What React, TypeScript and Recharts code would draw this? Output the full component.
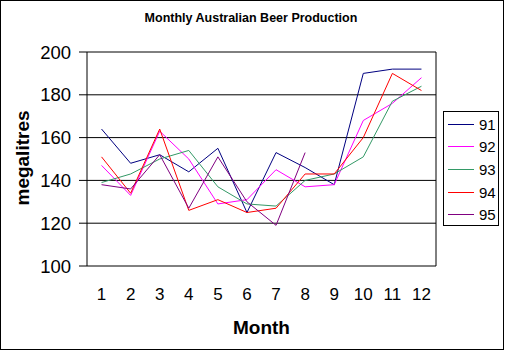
import React from "react";
import { LineChart, Line, XAxis, YAxis, CartesianGrid, Legend, ReferenceLine } from "recharts";

const months = [1, 2, 3, 4, 5, 6, 7, 8, 9, 10, 11, 12];
const y91 = [164, 148, 152, 144, 155, 125, 153, 146, 138, 190, 192, 192];
const y92 = [147, 133, 163, 150, 129, 131, 145, 137, 138, 168, 176, 188];
const y93 = [139, 143, 150, 154, 137, 129, 128, 140, 143, 151, 177, 184];
const y94 = [151, 134, 164, 126, 131, 125, 127, 143, 143, 160, 190, 182];
const y95 = [138, 136, 152, 127, 151, 130, 119, 153];

const yTicks = [100, 120, 140, 160, 180, 200];
const boundaryTicks = [0.5, 1.5, 2.5, 3.5, 4.5, 5.5, 6.5, 7.5, 8.5, 9.5, 10.5, 11.5, 12.5];

const series = [
    { key: "91", color: "#000080" },
    { key: "92", color: "#ff00ff" },
    { key: "93", color: "#339966" },
    { key: "94", color: "#ff0000" },
    { key: "95", color: "#800080" },
];

const data = months.map((m, i) => ({
    month: m,
    "91": y91[i],
    "92": y92[i],
    "93": y93[i],
    "94": y94[i],
    "95": y95[i] ?? null,
}));

const FONT = "'Liberation Sans', Arial, sans-serif";

const YLabel = ({ viewBox }: any) => {
    const cx = viewBox.x + 22;
    const cy = viewBox.y + viewBox.height / 2 - 1;
    return (
        <text x={cx} y={cy} transform={`rotate(-90 ${cx} ${cy})`} textAnchor="middle" dominantBaseline="central"
            fontSize={19} fontWeight="bold" fill="#000" fontFamily={FONT}>
            megalitres
        </text>
    );
};

const XLabel = ({ viewBox }: any) => (
    <text x={viewBox.x + viewBox.width / 2} y={viewBox.y + 68} textAnchor="middle"
        fontSize={19} fontWeight="bold" fill="#000" fontFamily={FONT}>
        Month
    </text>
);

const LegendBox = () => (
    <div style={{ border: "1px solid #000", width: 54, height: 113, background: "#fff", boxSizing: "content-box" }}>
        {series.map((s, i) => (
            <div key={s.key} style={{ display: "flex", alignItems: "center", height: 22.6, marginTop: i === 0 ? 1 : 0 }}>
                <div style={{ width: 26, height: 1, background: s.color, marginLeft: 4 }} />
                <span style={{ fontSize: 15, fontFamily: FONT, marginLeft: 5, color: "#000" }}>{s.key}</span>
            </div>
        ))}
    </div>
);

export default function App() {
    return (
        <div style={{ position: "absolute", left: 0, top: 0, width: 506, height: 351, background: "#fff" }}>
            <div style={{ position: "absolute", left: 0, top: 0, width: 502, height: 348, border: "1px solid #000" }} />
            <div style={{ position: "absolute", left: 0, width: 502, top: 11, textAlign: "center", fontFamily: FONT, fontSize: 12.5, fontWeight: "bold" }}>
                Monthly Australian Beer Production
            </div>
            <LineChart width={506} height={351} data={data} margin={{ top: 52, right: 70, bottom: 0, left: 0 }}
                style={{ position: "absolute", left: 0, top: 0 }}>
                <CartesianGrid vertical={false} stroke="#000" strokeOpacity={1} />
                <XAxis xAxisId="marks" type="number" dataKey="month" domain={[0.5, 12.5]} ticks={boundaryTicks}
                    tick={false} tickSize={6} height={0} axisLine={{ stroke: "#000" }} tickLine={{ stroke: "#000" }} />
                <XAxis xAxisId="labels" type="number" dataKey="month" domain={[0.5, 12.5]} ticks={months}
                    tickLine={false} axisLine={false} tickSize={6} tickMargin={16} height={85}
                    tick={{ fill: "#000", fontSize: 17, fontFamily: FONT }} label={<XLabel />} />
                <YAxis domain={[100, 200]} ticks={yTicks} width={87} tickSize={8} tickMargin={8}
                    axisLine={{ stroke: "#000" }} tickLine={{ stroke: "#000" }}
                    tick={{ fill: "#000", fontSize: 18.5, fontFamily: FONT }} label={<YLabel />} />
                <ReferenceLine xAxisId="labels" x={12.5} stroke="#000" />
                <Legend content={<LegendBox />} layout="horizontal" verticalAlign="middle" align="center"
                    wrapperStyle={{ position: "absolute", left: 443, top: 111, width: 56 }} />
                {series.map((s) => (
                    <Line key={s.key} xAxisId="labels" type="linear" dataKey={s.key} stroke={s.color} strokeWidth={1}
                        dot={false} activeDot={false} isAnimationActive={false} connectNulls={false} />
                ))}
            </LineChart>
        </div>
    );
}
